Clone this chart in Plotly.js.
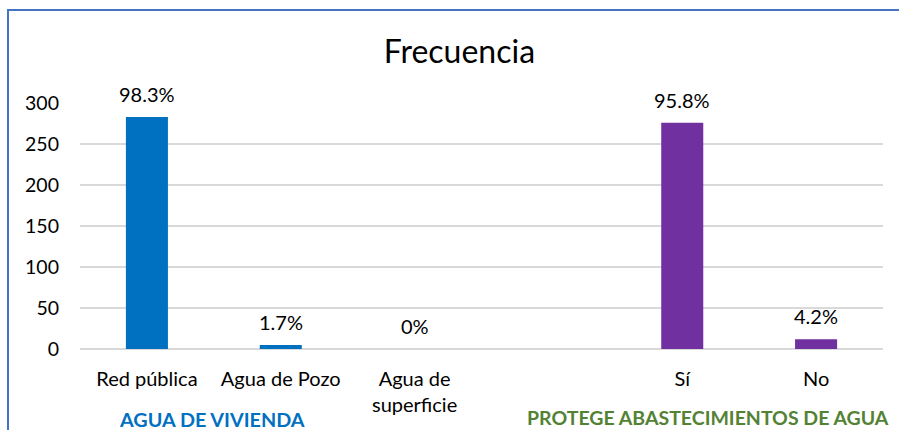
<!DOCTYPE html>
<html>
<head>
<meta charset="utf-8">
<script src="https://cdn.plot.ly/plotly-3.0.1.min.js"></script>
<style>
  body { margin: 0; padding: 0; background: #fff; }
  #wrap { position: relative; width: 899px; height: 430px; overflow: hidden; }
  #chart { position: absolute; left: 0; top: 0; width: 899px; height: 430px; }
  #frame { position: absolute; left: 7px; top: 9px; width: 900px; height: 430px;
           border-left: 2px solid #4472C4; border-top: 2px solid #4472C4; pointer-events: none; }
</style>
</head>
<body>
<div id="wrap">
  <div id="chart"></div>
  <div id="frame"></div>
</div>
<script>
const categories = ["Red pública", "Agua de Pozo", "Agua de<br>superficie", " ", "Sí", "No"];
const frequencies = [283, 5, 0, null, 276, 12];
const percentLabels = ["98.3%", "1.7%", "0%", "", "95.8%", "4.2%"];
const barColors = ["#0070C0", "#0070C0", "#0070C0", "#0070C0", "#7030A0", "#7030A0"];
const groupLabels = ["AGUA DE VIVIENDA", "PROTEGE ABASTECIMIENTOS DE AGUA"];
const groupColors = ["#0070C0", "#548235"];

const FONT = "Lato, 'Open Sans', 'Noto Sans', sans-serif";

const annotations = [];
categories.forEach((c, i) => {
  if (percentLabels[i] === "" || frequencies[i] === null) return;
  annotations.push({
    x: c, y: frequencies[i], xref: "x", yref: "y",
    text: percentLabels[i], showarrow: false,
    yanchor: "middle", yshift: 23,
    font: { family: FONT, size: 20, color: "#000" }
  });
});
annotations.push({
  x: 0.164, y: -0.285, xref: "paper", yref: "paper",
  text: "<b>" + groupLabels[0] + "</b>", showarrow: false,
  xanchor: "center", yanchor: "middle",
  font: { family: FONT, size: 19.8, color: groupColors[0] }
});
annotations.push({
  x: 0.7815, y: -0.277, xref: "paper", yref: "paper",
  text: "<b>" + groupLabels[1] + "</b>", showarrow: false,
  xanchor: "center", yanchor: "middle",
  font: { family: FONT, size: 19.5, color: groupColors[1] }
});

const data = [{
  type: "bar",
  x: categories,
  y: frequencies,
  marker: { color: barColors },
  width: 0.314,
  hoverinfo: "none"
}];

const layout = {
  width: 899, height: 430,
  margin: { l: 80, r: 16, t: 103, b: 81 },
  paper_bgcolor: "#fff", plot_bgcolor: "#fff",
  showlegend: false,
  title: {
    text: "Frecuencia",
    x: 0.511, xanchor: "center",
    y: 0.879, yanchor: "middle", yref: "container",
    font: { family: FONT, size: 32, color: "#000" }
  },
  xaxis: {
    type: "category",
    categoryarray: categories, categoryorder: "array",
    showgrid: false, zeroline: false, showline: false,
    ticks: "",
    tickfont: { family: FONT, size: 20, color: "#000" },
    ticklabelstandoff: 16
  },
  yaxis: {
    range: [0, 300],
    tickvals: [0, 50, 100, 150, 200, 250, 300],
    showgrid: true, gridcolor: "#D9D9D9", gridwidth: 1.5,
    zeroline: true, zerolinecolor: "#D9D9D9", zerolinewidth: 1.5,
    showline: false, ticks: "",
    tickfont: { family: FONT, size: 19.5, color: "#000" },
    ticklabelstandoff: 20
  },
  annotations: annotations
};

Plotly.newPlot("chart", data, layout, { displayModeBar: false, staticPlot: true });
</script>
</body>
</html>
